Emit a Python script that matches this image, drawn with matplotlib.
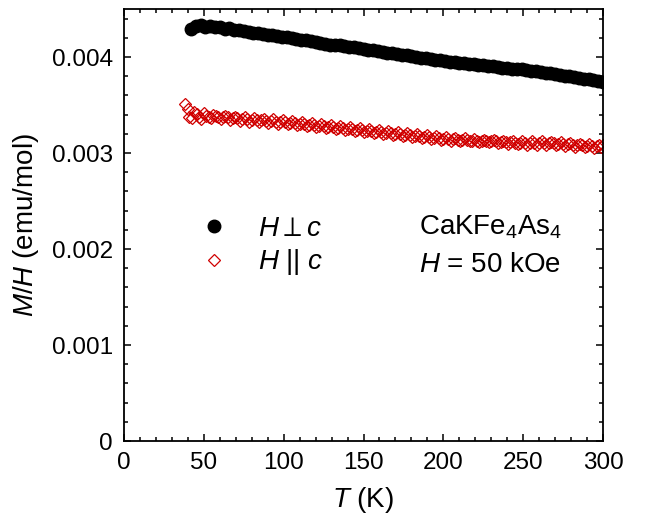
import numpy as np
import matplotlib
matplotlib.use("Agg")
import matplotlib.pyplot as plt
from matplotlib.ticker import MultipleLocator, FuncFormatter

plt.rcParams['font.family'] = ['Liberation Sans', 'DejaVu Sans']
plt.rcParams['mathtext.fontset'] = 'custom'
plt.rcParams['mathtext.rm'] = 'Liberation Sans'
plt.rcParams['mathtext.it'] = 'Liberation Sans:italic'

# H perp c (black filled circles), M/H in 1e-3 emu/mol
T_perp = [42, 45, 48, 51, 54, 57, 60, 63, 66, 69, 72, 75, 78, 81, 84, 87, 90,
          93, 96, 99, 102, 105, 108, 111, 114, 117, 120, 123, 126, 129, 132,
          135, 138, 141, 144, 147, 150, 153, 156, 159, 162, 165, 168, 171, 174,
          177, 180, 183, 186, 189, 192, 195, 198, 201, 204, 207, 210, 213, 216,
          219, 222, 225, 228, 231, 234, 237, 240, 243, 246, 249, 252, 255, 258,
          261, 264, 267, 270, 273, 276, 279, 282, 285, 288, 291, 294, 297, 300]
chi_perp = [4.29, 4.32, 4.33, 4.31, 4.32, 4.31, 4.31, 4.29, 4.30, 4.28, 4.28,
            4.27, 4.26, 4.25, 4.25, 4.24, 4.23, 4.23, 4.22, 4.21, 4.21, 4.20,
            4.19, 4.18, 4.18, 4.17, 4.16, 4.15, 4.14, 4.13, 4.13, 4.12, 4.11,
            4.10, 4.10, 4.09, 4.08, 4.07, 4.07, 4.06, 4.05, 4.04, 4.04, 4.03,
            4.02, 4.02, 4.01, 4.00, 3.99, 3.99, 3.98, 3.97, 3.97, 3.96, 3.95,
            3.95, 3.94, 3.94, 3.93, 3.93, 3.92, 3.92, 3.91, 3.91, 3.90, 3.89,
            3.89, 3.88, 3.87, 3.87, 3.86, 3.85, 3.85, 3.84, 3.83, 3.83, 3.82,
            3.81, 3.80, 3.80, 3.79, 3.78, 3.77, 3.77, 3.76, 3.75, 3.74]

# H || c (red open diamonds), two interleaved sweeps of the noisy band
T_par = [38, 40, 41, 44, 47, 50, 53, 56, 59, 62, 65, 68, 71, 74, 77, 80, 83,
         86, 89, 92, 95, 98, 101, 104, 107, 110, 113, 116, 119, 122, 125, 128,
         131, 134, 137, 140, 143, 146, 149, 152, 155, 158, 161, 164, 167, 170,
         173, 176, 179, 182, 185, 188, 191, 194, 197, 200, 203, 206, 209, 212,
         215, 218, 221, 224, 227, 230, 233, 236, 239, 242, 245, 248, 251, 254,
         257, 260, 263, 266, 269, 272, 275, 278, 281, 284, 287, 290, 293, 296,
         299, 300]
chi_par = [3.51, 3.46, 3.38, 3.43, 3.37, 3.42, 3.38, 3.40, 3.37, 3.38, 3.37,
           3.36, 3.36, 3.35, 3.35, 3.34, 3.34, 3.34, 3.33, 3.33, 3.32, 3.32,
           3.32, 3.31, 3.31, 3.30, 3.30, 3.29, 3.29, 3.28, 3.28, 3.27, 3.27,
           3.26, 3.26, 3.25, 3.25, 3.24, 3.24, 3.23, 3.23, 3.22, 3.22, 3.21,
           3.21, 3.20, 3.20, 3.19, 3.19, 3.18, 3.18, 3.17, 3.17, 3.16, 3.16,
           3.15, 3.15, 3.15, 3.14, 3.14, 3.14, 3.13, 3.13, 3.13, 3.12, 3.12,
           3.12, 3.11, 3.11, 3.11, 3.10, 3.10, 3.10, 3.10, 3.10, 3.10, 3.10,
           3.10, 3.10, 3.09, 3.09, 3.09, 3.08, 3.08, 3.08, 3.07, 3.07, 3.07,
           3.06, 3.08]
T_par_b = [42.5, 45.5, 48.5, 51.5, 54.5, 57.5, 60.5, 63.5, 66.5, 69.5, 72.5,
           75.5, 78.5, 81.5, 84.5, 87.5, 90.5, 93.5, 96.5, 99.5, 102.5, 105.5,
           108.5, 111.5, 114.5, 117.5, 120.5, 123.5, 126.5, 129.5, 132.5, 135.5,
           138.5, 141.5, 144.5, 147.5, 150.5, 153.5, 156.5, 159.5, 162.5, 165.5,
           168.5, 171.5, 174.5, 177.5, 180.5, 183.5, 186.5, 189.5, 192.5, 195.5,
           198.5, 201.5, 204.5, 207.5, 210.5, 213.5, 216.5, 219.5, 222.5, 225.5,
           228.5, 231.5, 234.5, 237.5, 240.5, 243.5, 246.5, 249.5, 252.5, 255.5,
           258.5, 261.5, 264.5, 267.5, 270.5, 273.5, 276.5, 279.5, 282.5, 285.5,
           288.5, 291.5, 294.5, 297.5]
chi_par_b = [3.36, 3.41, 3.35, 3.39, 3.36, 3.39, 3.35, 3.39, 3.34, 3.38, 3.33,
             3.37, 3.32, 3.36, 3.32, 3.35, 3.31, 3.35, 3.30, 3.34, 3.30, 3.33,
             3.29, 3.32, 3.28, 3.31, 3.27, 3.30, 3.26, 3.29, 3.25, 3.28,
             3.24, 3.27, 3.23, 3.26, 3.22, 3.25, 3.21, 3.24, 3.20, 3.23,
             3.19, 3.22, 3.18, 3.21, 3.17, 3.20, 3.16, 3.19, 3.15, 3.18,
             3.14, 3.17, 3.13, 3.16, 3.12, 3.16, 3.12, 3.15, 3.11, 3.14,
             3.11, 3.14, 3.10, 3.13, 3.09, 3.12, 3.09, 3.12, 3.08, 3.12,
             3.08, 3.12, 3.08, 3.11, 3.08, 3.11, 3.07, 3.10, 3.06, 3.09,
             3.06, 3.09, 3.05, 3.08]

red = '#d00000'

fig = plt.figure(figsize=(6.53, 5.23), dpi=100)
ax = fig.add_axes([124 / 653, 1 - 441 / 523, 479 / 653, 432 / 523])

ax.plot(T_perp, np.array(chi_perp) * 1e-3, 'o', color='black', ms=9,
        mec='black', label=r'$H\perp c$')
ax.plot(T_par, np.array(chi_par) * 1e-3, 'D', color=red, ms=6.5,
        mfc='none', mew=0.9, label=r'$H\ ||\ c$')
ax.plot(T_par_b, np.array(chi_par_b) * 1e-3, 'D', color=red, ms=6.5,
        mfc='none', mew=0.9)

ax.set_xlim(0, 300)
ax.set_ylim(0, 0.0045)
ax.xaxis.set_major_locator(MultipleLocator(50))
ax.xaxis.set_minor_locator(MultipleLocator(10))
ax.yaxis.set_major_locator(MultipleLocator(0.001))
ax.yaxis.set_minor_locator(MultipleLocator(0.0002))
ax.yaxis.set_major_formatter(FuncFormatter(lambda v, p: '0' if abs(v) < 1e-12 else f'{v:.3f}'))
ax.tick_params(which='both', direction='in', top=True, right=True,
               labelsize=17.5, width=1.1, pad=8)
ax.tick_params(which='major', length=5)
ax.tick_params(which='minor', length=3)
for s in ax.spines.values():
    s.set_linewidth(1.3)

ax.set_xlabel(r'$T$ (K)', fontsize=20, labelpad=8)
ax.set_ylabel(r'$M/H$ (emu/mol)', fontsize=20, labelpad=8)

ax.legend(loc='center left', bbox_to_anchor=(0.13, 0.45), frameon=False,
          fontsize=20, handlelength=2.0, handletextpad=0.6, borderpad=0,
          borderaxespad=0, markerscale=1.0, labelspacing=0.2)
ax.text(0.615, 0.477, r'CaKFe$_4$As$_4$', transform=ax.transAxes, fontsize=20, va='baseline')
ax.text(0.615, 0.391, r'$H$ = 50 kOe', transform=ax.transAxes, fontsize=20, va='baseline')

fig.savefig('out.png', dpi=100)
